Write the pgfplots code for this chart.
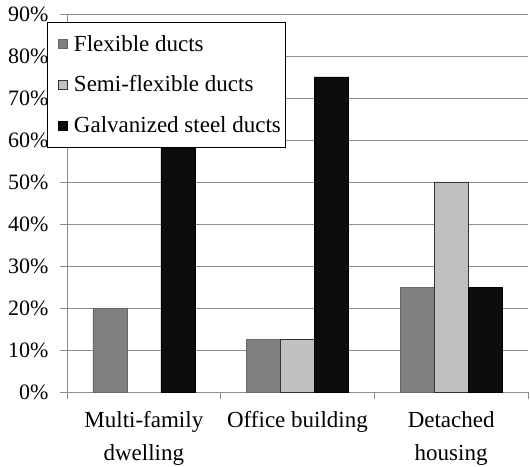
\documentclass[border=0pt]{standalone}
\usepackage{pgfplots}
\pgfplotsset{compat=1.18}
\usepackage{fontspec}
\setmainfont{Liberation Serif}

\definecolor{flexgray}{HTML}{808080}
\definecolor{semigray}{HTML}{C0C0C0}
\definecolor{steelblack}{HTML}{0D0D0D}
\definecolor{gridgray}{HTML}{8C8C8C}

\begin{document}
\begin{tikzpicture}
\begin{axis}[
  at={(0pt,0pt)}, anchor=south west,
  scale only axis, width=461pt, height=378pt,
  ybar=0pt, bar width=34pt,
  xmin=-0.5, xmax=2.5,
  ymin=0, ymax=90,
  xtick={-0.5,0.5,1.5,2.5},
  x tick label as interval,
  xticklabels={{Multi-family\\dwelling},{Office building},{Detached\\housing}},
  xticklabel style={align=center, yshift=-9pt, font=\fontsize{23}{33}\selectfont},
  ytick={0,10,...,90},
  yticklabel={\pgfmathprintnumber{\tick}\%},
  /pgf/number format/assume math mode=true,
  yticklabel style={xshift=-8pt, font=\fontsize{22}{26}\selectfont},
  tick align=outside,
  major tick length=7pt,
  tick style={gridgray, line width=0.8pt},
  axis x line*=bottom, axis y line*=left,
  axis line style={gridgray, line width=0.8pt, -},
  ymajorgrids,
  major grid style={gridgray, line width=0.8pt},
  legend cell align=left,
  legend image code/.code={%
    \path (0pt,0pt) (22pt,0pt);
    \draw[#1] (9pt,-4.5pt) rectangle (18pt,4.5pt);},
  legend style={
    at={(axis description cs:-0.0434,0.979)}, anchor=north west,
    draw=black, fill=white, line width=0.8pt,
    font=\fontsize{23}{27}\selectfont,
    row sep=19pt, inner xsep=2pt, inner ysep=11pt,
  },
]
% flexible ducts
\addplot[fill=flexgray, draw=flexgray!80!black, line width=0.4pt]
  coordinates {(0,20) (1,12.5) (2,25)};
% semi-flexible ducts (none in multi-family dwellings)
\addplot[fill=semigray, draw=black!80, line width=0.6pt]
  coordinates {(1,12.5) (2,50)};
% galvanized steel ducts
\addplot[fill=steelblack, draw=black, line width=0.4pt]
  coordinates {(0,80) (1,75) (2,25)};
\legend{Flexible ducts, Semi-flexible ducts, Galvanized steel ducts}
\end{axis}
\pgfresetboundingbox
\path (-67pt,-74pt) rectangle (463pt,392pt);
\end{tikzpicture}
\end{document}
